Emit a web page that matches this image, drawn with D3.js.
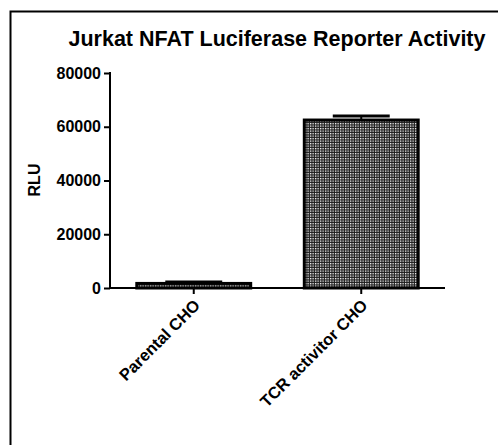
<!DOCTYPE html>
<html>
<head>
<meta charset="utf-8">
<script src="https://cdn.jsdelivr.net/npm/d3@7"></script>
<style>
  body { margin: 0; background: #fff; }
  svg { display: block; font-family: "Liberation Sans", Arial, sans-serif; }
</style>
</head>
<body>
<div id="content"></div>
<script>
(() => {
    // chart data
    var categories = ["Parental CHO", "TCR activitor CHO"];
    var means = [1700, 62500];
    var errors = [500, 1500];
    var yTicks = [0, 20000, 40000, 60000, 80000];
    var title = "Jurkat NFAT Luciferase Reporter Activity";
    var yLabel = "RLU";

    var W = 498, H = 445;
    var margin = { top: 73, left: 110, right: 53, bottom: 157 };
    var width = W - margin.left - margin.right;
    var height = H - margin.top - margin.bottom;

    var svg = d3.select("#content").append("svg")
        .attr("width", W)
        .attr("height", H);

    // checkered fill
    var pat = svg.append("defs").append("pattern")
        .attr("id", "checker")
        .attr("width", 2.5).attr("height", 2.5)
        .attr("patternUnits", "userSpaceOnUse");
    pat.append("rect").attr("width", 2.5).attr("height", 2.5).attr("fill", "#1e1e1e");
    pat.append("rect").attr("width", 1.3).attr("height", 1.3).attr("fill", "#fff");

    // frame (left + top only, image is cropped)
    svg.append("path")
        .attr("d", "M10.5," + H + "V11.5H" + W)
        .attr("fill", "none")
        .attr("stroke", "#000")
        .attr("stroke-width", 2);

    svg.append("text")
        .attr("x", 277).attr("y", 46)
        .attr("text-anchor", "middle")
        .style("font-weight", "bold")
        .style("font-size", "21.5px")
        .text(title);

    var g = svg.append("g")
        .attr("transform", "translate(" + margin.left + "," + margin.top + ")");

    var x = d3.scaleBand().domain(categories).range([0, width]).paddingInner(0.32).paddingOuter(0.16);
    var y = d3.scaleLinear().domain([0, 80000]).range([height, 0]);

    // bars
    g.selectAll(".bar")
        .data(categories)
        .enter().append("rect")
        .attr("class", "bar")
        .attr("x", function (d) { return x(d); })
        .attr("width", x.bandwidth())
        .attr("y", function (d, i) { return y(means[i]); })
        .attr("height", function (d, i) { return height - y(means[i]); })
        .attr("fill", "url(#checker)")
        .attr("stroke", "#000")
        .attr("stroke-width", 3);

    // error bars (upper only)
    var eb = g.selectAll(".err")
        .data(categories)
        .enter().append("g")
        .attr("class", "err");
    eb.append("line")
        .attr("x1", function (d) { return x(d) + x.bandwidth() / 2; })
        .attr("x2", function (d) { return x(d) + x.bandwidth() / 2; })
        .attr("y1", function (d, i) { return y(means[i]); })
        .attr("y2", function (d, i) { return y(means[i] + errors[i]); })
        .attr("stroke", "#000").attr("stroke-width", 2);
    eb.append("line")
        .attr("x1", function (d) { return x(d) + x.bandwidth() / 4; })
        .attr("x2", function (d) { return x(d) + x.bandwidth() * 3 / 4; })
        .attr("y1", function (d, i) { return y(means[i] + errors[i]); })
        .attr("y2", function (d, i) { return y(means[i] + errors[i]); })
        .attr("stroke", "#000").attr("stroke-width", 3);

    // axes
    var yAxis = d3.axisLeft(y).tickValues(yTicks).tickSize(6).tickPadding(3).tickFormat(d3.format("d"));
    var yg = g.append("g").call(yAxis);
    yg.select(".domain").attr("stroke-width", 2).attr("d", "M0," + (height + 1) + "V-1");
    yg.selectAll(".tick line").attr("stroke-width", 2);
    yg.selectAll("text")
        .style("font-size", "16px")
        .style("font-weight", "bold")
        .attr("fill", "#000");

    var xAxis = d3.axisBottom(x).tickSize(6).tickSizeOuter(0);
    var xg = g.append("g").attr("transform", "translate(0," + height + ")").call(xAxis);
    xg.select(".domain").attr("stroke-width", 2).attr("d", "M-1,0H" + width);
    xg.selectAll(".tick line").attr("stroke-width", 2);
    xg.selectAll("text")
        .style("font-size", "16.5px")
        .style("font-weight", "bold")
        .attr("fill", "#000")
        .style("text-anchor", "end")
        .attr("dy", "0.35em")
        .attr("transform", "translate(-3,8) rotate(-45)");

    svg.append("text")
        .attr("transform", "translate(40,180) rotate(-90)")
        .attr("text-anchor", "middle")
        .style("font-weight", "bold")
        .style("font-size", "16px")
        .text(yLabel);
})();
</script>
</body>
</html>
